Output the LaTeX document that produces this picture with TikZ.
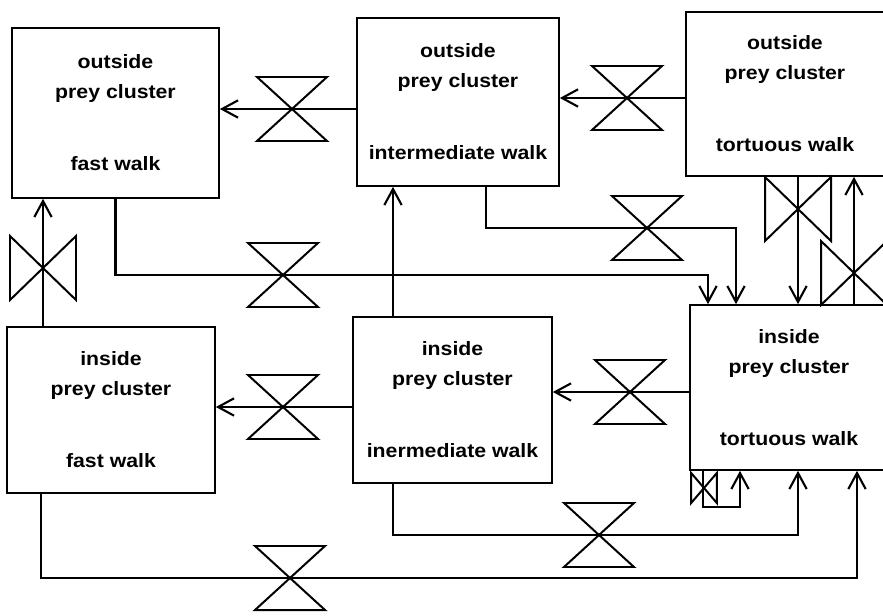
\documentclass[tikz,border=0pt]{standalone}
\usepackage{fontspec}
\newfontfamily\labelfont{Liberation Sans}[FakeStretch=1.1]
\usetikzlibrary{
  arrows.meta,
  calc
}
\tikzset{
  cluster/.style={draw, line width=1.4pt, inner sep=0pt, align=center,
    font=\labelfont\bfseries\fontsize{16.5}{25.6}\selectfont},
  pipe/.style={line width=1.8pt},
  flow/.style={pipe, -{Straight Barb[length=4.8mm,width=5.2mm]}},
  valve/.style={line width=1.7pt, line join=miter},
  valveh/.pic={\draw[valve] (-35,-32) -- (35,-32) -- (-35,32) -- (35,32) -- cycle;},
  valvev/.pic={\draw[valve] (-33,-32) -- (-33,32) -- (33,-32) -- (33,32) -- cycle;}
}

\begin{document}
\begin{tikzpicture}[x=0.03cm, y=-0.03cm]
  \useasboundingbox (0,0) rectangle (883,616);
  \clip (0,0) rectangle (883,616);

  % outside prey cluster
  \node[cluster, minimum width=6.21cm, minimum height=5.1cm] (ofast) at (115.5,113)
    {outside\\prey cluster\\[36pt]fast walk};
  \node[cluster, minimum width=6.06cm, minimum height=5.04cm] (ointer) at (458,102)
    {outside\\prey cluster\\[36pt]intermediate walk};
  \node[cluster, minimum width=5.94cm, minimum height=4.92cm] (otort) at (785,94)
    {outside\\prey cluster\\[36pt]tortuous walk};

  % inside prey cluster
  \node[cluster, minimum width=6.24cm, minimum height=4.98cm] (ifast) at (111,410)
    {inside\\prey cluster\\[36pt]fast walk};
  \node[cluster, minimum width=5.97cm, minimum height=4.98cm] (iinter) at (452.5,400)
    {inside\\prey cluster\\[36pt]inermediate walk};
  \node[cluster, minimum width=5.94cm, minimum height=4.95cm] (itort) at (789,387.5)
    {inside\\prey cluster\\[36pt]tortuous walk};

  % valve positions and pipe corners
  \coordinate (v1) at (292,109);
  \coordinate (v2) at (627,98);
  \coordinate (v3) at (283,275);
  \coordinate (v4) at (647,228);
  \coordinate (v5) at (798,209);
  \coordinate (v6) at (854,273);
  \coordinate (v7) at (43,268);
  \coordinate (v8) at (283,407);
  \coordinate (v9) at (630,392);
  \coordinate (v10) at (599,535);
  \coordinate (v11) at (290,578);
  \coordinate (v12) at (704,488);
  \coordinate (d1) at (708,275);
  \coordinate (d2) at (736,228);
  \coordinate (u1) at (393,535);
  \coordinate (d3) at (798,535);
  \coordinate (d4) at (41,578);
  \coordinate (d5) at (857,578);
  \coordinate (d6) at (703,507);
  \coordinate (d7) at (740,507);

  % top row
  \draw[flow] (ointer.west |- v1) -- (ofast.east |- v1);
  \pic at (v1) {valveh};
  \draw[flow] (otort.west |- v2) -- (ointer.east |- v2);
  \pic at (v2) {valveh};

  % outside -> inside tortuous
  \draw[flow] (ofast.south) |- (d1) -- (d1 |- itort.north);
  \pic at (v3) {valveh};
  \draw[flow] ($(ointer.south)+(28,0)$) |- (d2) -- (d2 |- itort.north);
  \pic at (v4) {valveh};
  \draw[flow] (v5 |- otort.south) -- (v5 |- itort.north);
  \pic at (v5) {valvev};
  \draw[flow] (v6 |- itort.north) -- (v6 |- otort.south);
  \pic at (v6) {valvev};

  % inside -> outside
  \draw[flow] (v7 |- ifast.north) -- (v7 |- ofast.south);
  \pic at (v7) {valvev};
  \draw[flow] (u1 |- iinter.north) -- (u1 |- ointer.south);

  % bottom row
  \draw[flow] (iinter.west |- v8) -- (ifast.east |- v8);
  \pic at (v8) {valveh};
  \draw[flow] (itort.west |- v9) -- (iinter.east |- v9);
  \pic at (v9) {valveh};

  % inside -> inside tortuous
  \draw[flow] (u1 |- iinter.south) -- (u1) -- (d3) -- (d3 |- itort.south);
  \pic at (v10) {valveh};
  \draw[flow] (d4 |- ifast.south) -- (d4) -- (d5) -- (d5 |- itort.south);
  \pic at (v11) {valveh};
  \draw[flow] (d6 |- itort.south) -- (d6) -- (d7) -- (d7 |- itort.south);
  \pic[xscale=0.39, yscale=0.47] at (v12) {valvev};
\end{tikzpicture}
\end{document}
